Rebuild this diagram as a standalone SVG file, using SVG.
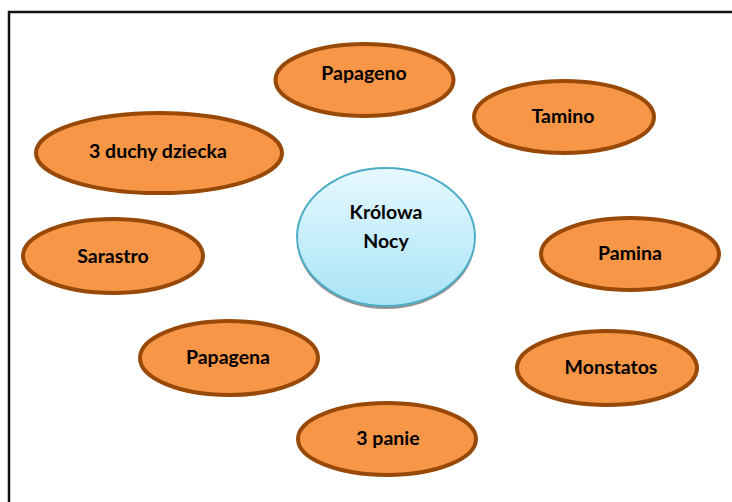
<svg xmlns="http://www.w3.org/2000/svg" width="732" height="502" viewBox="0 0 732 502">
<defs>
<linearGradient id="blue" x1="0" y1="0" x2="0" y2="1">
<stop offset="0" stop-color="#e6f8fe"/>
<stop offset="1" stop-color="#a9e4f7"/>
</linearGradient>
<style>
.n ellipse{fill:#f79646;stroke:#984807;stroke-width:4}
text{font-family:Lato,"Liberation Sans",sans-serif;font-weight:bold;font-size:19.5px;fill:#000;text-anchor:middle}
</style>
</defs>
<rect width="732" height="502" fill="#fff"/>
<path d="M9,502 V12 H732" fill="none" stroke="#111" stroke-width="2.5"/>
<g id="connectors"/>
<g id="krolowa">
<ellipse cx="386" cy="240" rx="89" ry="69" fill="#777" opacity="0.8"/>
<ellipse cx="386" cy="237" rx="89" ry="69" fill="url(#blue)" stroke="#4bacc6" stroke-width="2"/>
<text x="386" y="219">Królowa</text>
<text x="386" y="248">Nocy</text>
</g>
<g id="papageno" class="n"><ellipse cx="364.5" cy="80" rx="89" ry="36"/><text x="364" y="80">Papageno</text></g>
<g id="tamino" class="n"><ellipse cx="564" cy="117" rx="90" ry="36"/><text x="563" y="123">Tamino</text></g>
<g id="duchy" class="n"><ellipse cx="159" cy="153" rx="123" ry="40"/><text x="158" y="158">3 duchy dziecka</text></g>
<g id="sarastro" class="n"><ellipse cx="113" cy="256" rx="90" ry="37"/><text x="113" y="263">Sarastro</text></g>
<g id="pamina" class="n"><ellipse cx="630" cy="254" rx="89" ry="36"/><text x="630" y="260">Pamina</text></g>
<g id="papagena" class="n"><ellipse cx="229" cy="358" rx="89" ry="37"/><text x="228" y="364">Papagena</text></g>
<g id="monstatos" class="n"><ellipse cx="607" cy="368" rx="90" ry="37"/><text x="611" y="374">Monstatos</text></g>
<g id="panie" class="n"><ellipse cx="387" cy="439" rx="89" ry="36"/><text x="388" y="445">3 panie</text></g>
</svg>
